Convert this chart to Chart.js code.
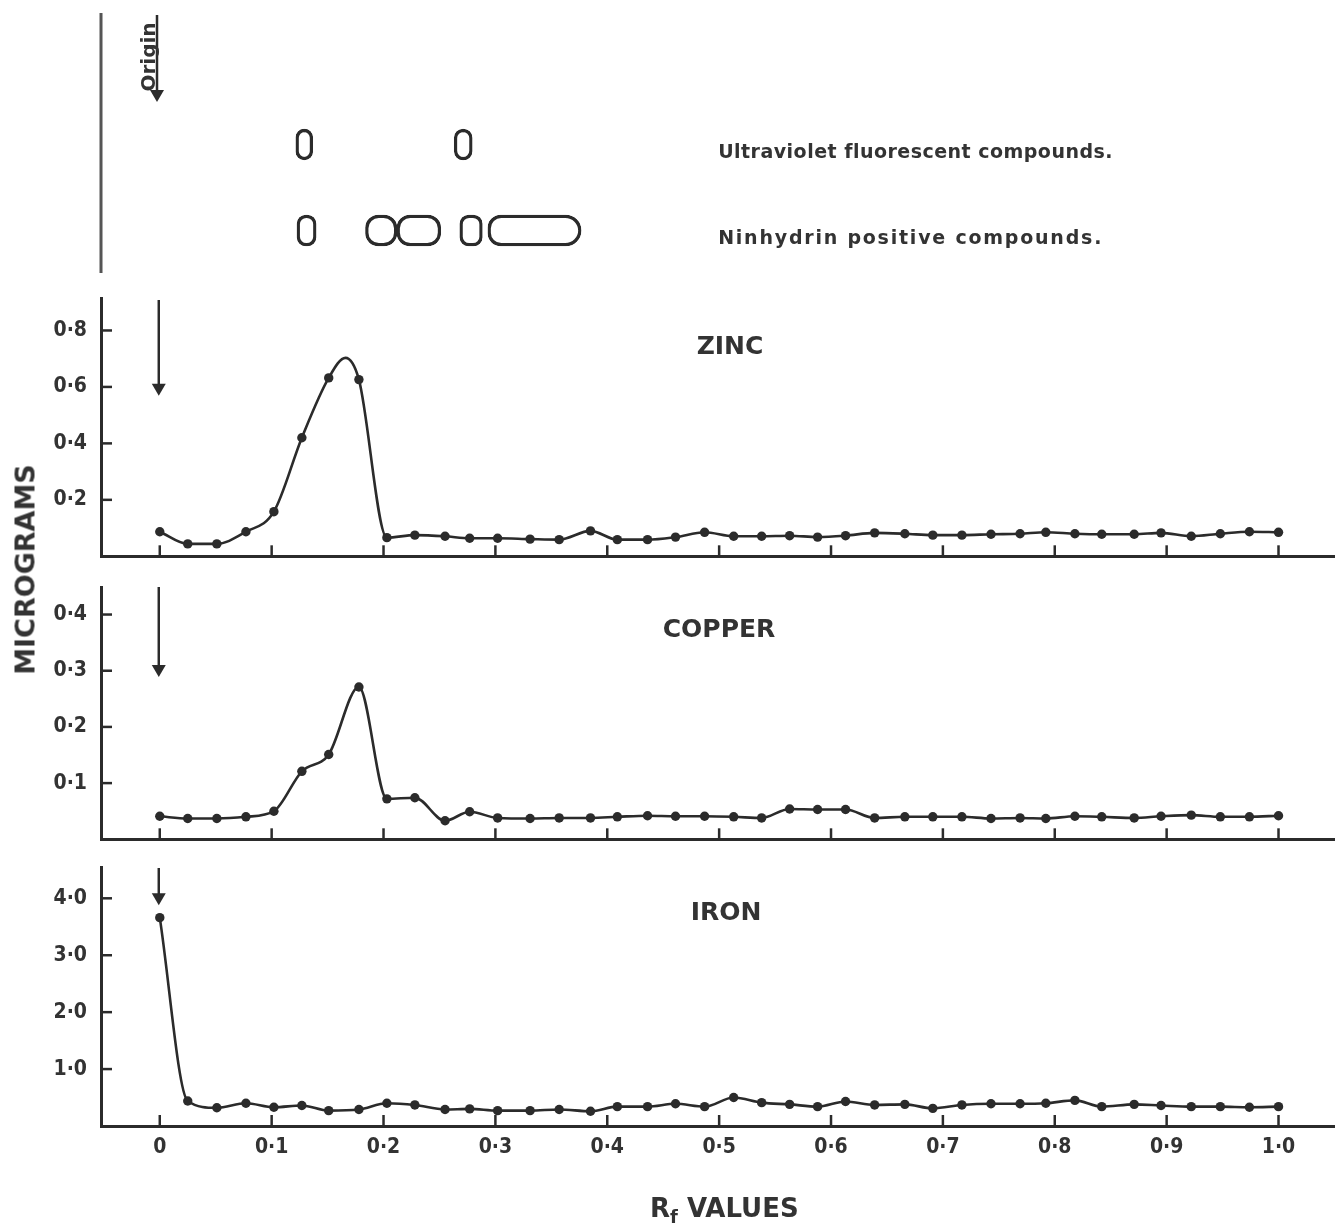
<!DOCTYPE html>
<html>
<head>
<meta charset="utf-8">
<script src="https://cdn.jsdelivr.net/npm/chart.js@4.4.1/dist/chart.umd.min.js"></script>
<style>
  html, body { margin: 0; padding: 0; background: #fff; }
  body { width: 1339px; height: 1226px; position: relative; overflow: hidden; }
  canvas { position: absolute; left: 0; }
  #ytitle {
    position: absolute; left: -127px; top: 556px; width: 300px; height: 27px;
    line-height: 27px; text-align: center; font: bold 27px 'DejaVu Sans', sans-serif;
    color: #333; transform: rotate(-90deg); transform-origin: 150px 13.5px; white-space: nowrap;
  }
  #xtitle {
    position: absolute; left: 650px; top: 1193px; height: 26px; line-height: 26px;
    font: bold 26px 'DejaVu Sans', sans-serif; color: #333; white-space: nowrap;
  }
  #xtitle sub { font-size: 18px; vertical-align: -6px; line-height: 0; }
</style>
</head>
<body>
<canvas id="spots" width="1339" height="290" style="top:0px"></canvas>
<canvas id="zinc" width="1339" height="271" style="top:290px"></canvas>
<canvas id="copper" width="1339" height="265" style="top:579px"></canvas>
<canvas id="iron" width="1339" height="367" style="top:859px"></canvas>
<div id="ytitle">MICROGRAMS</div>
<div id="xtitle">R<sub>f</sub> VALUES</div>
<script>
// ---------------- data ----------------
const rfValues = [0.000,0.025,0.051,0.077,0.102,0.127,0.151,0.178,0.203,0.228,
                  0.255,0.277,0.302,0.331,0.357,0.385,0.409,0.436,0.461,0.487,
                  0.513,0.538,0.563,0.588,0.613,0.639,0.666,0.691,0.717,0.743,
                  0.769,0.792,0.818,0.842,0.871,0.895,0.922,0.948,0.974,1.000];

const zincValues = [0.087,0.044,0.044,0.087,0.158,0.420,0.632,0.626,0.066,0.075,
                    0.071,0.064,0.064,0.061,0.059,0.090,0.059,0.059,0.068,0.085,
                    0.071,0.071,0.073,0.068,0.073,0.083,0.080,0.075,0.075,0.078,
                    0.080,0.085,0.080,0.078,0.078,0.083,0.071,0.080,0.087,0.085];
const zincApex = { rf: 0.166, value: 0.703 };   // top of the drawn curve between two readings

const copperValues = [0.041,0.037,0.037,0.040,0.050,0.121,0.151,0.271,0.072,0.074,
                      0.033,0.049,0.038,0.037,0.038,0.038,0.040,0.042,0.041,0.041,
                      0.040,0.038,0.054,0.053,0.053,0.038,0.040,0.040,0.040,0.037,
                      0.038,0.037,0.041,0.040,0.038,0.041,0.043,0.040,0.040,0.042];

const ironValues = [3.66,0.44,0.32,0.40,0.33,0.36,0.27,0.29,0.40,0.37,
                    0.29,0.30,0.27,0.27,0.29,0.26,0.34,0.34,0.39,0.34,
                    0.50,0.41,0.38,0.34,0.43,0.37,0.38,0.31,0.37,0.39,
                    0.39,0.40,0.45,0.34,0.38,0.36,0.34,0.34,0.33,0.34];

const rfTicks = [0,0.1,0.2,0.3,0.4,0.5,0.6,0.7,0.8,0.9,1.0];
const rfTickLabels = ['0','0·1','0·2','0·3','0·4','0·5','0·6','0·7','0·8','0·9','1·0'];

const zincTicks = [0.2,0.4,0.6,0.8];
const zincTickLabels = ['0·2','0·4','0·6','0·8'];
const copperTicks = [0.1,0.2,0.3,0.4];
const copperTickLabels = ['0·1','0·2','0·3','0·4'];
const ironTicks = [1,2,3,4];
const ironTickLabels = ['1·0','2·0','3·0','4·0'];

const spotRows = ['Ultraviolet fluorescent compounds.', 'Ninhydrin positive compounds.'];
const uvSpots = [[0.121,0.136],[0.262,0.278]];
const ninhydrinSpots = [[0.122,0.139],[0.183,0.211],[0.211,0.250],[0.267,0.287],[0.292,0.375]];

// ---------------- style / layout ----------------
const INK = '#2b2b2b';
const TEXT = '#333';
const X_MIN = -0.05254, X_MAX = 1.04987;
const TICK_FONT = { family: "'DejaVu Sans Condensed', 'Liberation Sans Narrow', 'DejaVu Sans'", size: 21, weight: 'bold' };
Chart.defaults.font.family = "'DejaVu Sans', sans-serif";
Chart.defaults.color = TEXT;

const decor = {
  id: 'decor',
  afterDraw(chart, args, o) {
    const { ctx, chartArea: a, scales } = chart;
    const xs = scales.x, ys = scales.y;
    ctx.save();
    ctx.strokeStyle = INK; ctx.fillStyle = INK; ctx.lineWidth = 2.5; ctx.lineCap = 'butt';
    (o.yTicks || []).forEach(v => {
      const y = ys.getPixelForValue(v);
      ctx.beginPath(); ctx.moveTo(a.left, y); ctx.lineTo(a.left + 11, y); ctx.stroke();
    });
    rfTicks.forEach(v => {
      const x = xs.getPixelForValue(v);
      ctx.beginPath(); ctx.moveTo(x, a.bottom); ctx.lineTo(x, a.bottom - 11); ctx.stroke();
    });
    if (o.arrowTip != null) {
      const x = xs.getPixelForValue(0) - 1;
      const yTip = ys.getPixelForValue(o.arrowTip);
      ctx.beginPath(); ctx.moveTo(x, a.top + (o.arrowStart || 0)); ctx.lineTo(x, yTip - 10); ctx.stroke();
      ctx.beginPath(); ctx.moveTo(x - 7, yTip - 12); ctx.lineTo(x + 7, yTip - 12); ctx.lineTo(x, yTip); ctx.closePath(); ctx.fill();
    }
    if (o.title) {
      ctx.fillStyle = TEXT;
      ctx.font = "bold 25px 'DejaVu Sans', sans-serif";
      ctx.textAlign = 'center'; ctx.textBaseline = 'middle';
      ctx.fillText(o.title, o.titleX, a.top + o.titleDy);
    }
    ctx.restore();
  }
};

function makePanel(id, cfg) {
  return new Chart(document.getElementById(id), {
    type: 'line',
    data: {
      datasets: [{
        data: cfg.points,
        borderColor: INK,
        backgroundColor: INK,
        borderWidth: 2.6,
        pointRadius: c => (c.raw && c.raw.apex) ? 0 : 4.7,
        pointBackgroundColor: INK,
        pointBorderWidth: 0,
        cubicInterpolationMode: 'monotone',
        tension: 0.4,
        fill: false
      }]
    },
    options: {
      responsive: false, animation: false, devicePixelRatio: 1,
      layout: { padding: { top: 8, left: 0, right: 0, bottom: 0 } },
      plugins: {
        legend: { display: false }, tooltip: { enabled: false },
        decor: { yTicks: cfg.yTicks, arrowTip: cfg.arrowTip, arrowStart: cfg.arrowStart,
                 title: cfg.title, titleX: cfg.titleX, titleDy: cfg.titleDy }
      },
      scales: {
        x: {
          type: 'linear', min: X_MIN, max: X_MAX,
          grid: { display: false },
          border: { display: true, color: INK, width: 3 },
          ticks: { display: cfg.showX, autoSkip: false, maxRotation: 0, minRotation: 0, padding: 1,
                   font: TICK_FONT, color: TEXT, callback: (v, i) => rfTickLabels[i] },
          afterBuildTicks: s => { s.ticks = rfTicks.map(v => ({ value: v })); },
          afterFit: s => { s.height = cfg.xHeight; s.paddingLeft = 0; s.paddingRight = 0; }
        },
        y: {
          type: 'linear', min: 0, max: cfg.yMax,
          grid: { display: false },
          border: { display: true, color: INK, width: 3 },
          ticks: { padding: 6, font: TICK_FONT, color: TEXT, callback: (v, i) => cfg.yLabels[i] },
          afterBuildTicks: s => { s.ticks = cfg.yTicks.map(v => ({ value: v })); },
          afterFit: s => { s.width = 101; s.paddingTop = 0; s.paddingBottom = 0; }
        }
      }
    },
    plugins: [decor]
  });
}

const toPoints = vals => rfValues.map((x, i) => ({ x: x, y: vals[i] }));
const zincPoints = toPoints(zincValues);
zincPoints.push({ x: zincApex.rf, y: zincApex.value, apex: true });
zincPoints.sort((p, q) => p.x - q.x);

makePanel('zinc', { points: zincPoints, yMax: 0.915, yTicks: zincTicks, yLabels: zincTickLabels,
  showX: false, xHeight: 4, title: 'ZINC', titleX: 730, titleDy: 49, arrowTip: 0.569, arrowStart: 2 });
makePanel('copper', { points: toPoints(copperValues), yMax: 0.449, yTicks: copperTicks, yLabels: copperTickLabels,
  showX: false, xHeight: 4, title: 'COPPER', titleX: 719, titleDy: 43, arrowTip: 0.289, arrowStart: 0 });
makePanel('iron', { points: toPoints(ironValues), yMax: 4.55, yTicks: ironTicks, yLabels: ironTickLabels,
  showX: true, xHeight: 100, title: 'IRON', titleX: 726, titleDy: 46, arrowTip: 3.877, arrowStart: 1 });

// ---------------- chromatogram strip ----------------
const spotDecor = {
  id: 'spotDecor',
  afterDraw(chart) {
    const { ctx, chartArea: a, scales } = chart;
    const xs = scales.x, ys = scales.y;
    ctx.save();
    ctx.strokeStyle = '#555'; ctx.lineWidth = 3;
    ctx.beginPath(); ctx.moveTo(a.left, 13); ctx.lineTo(a.left, 273); ctx.stroke();
    const ox = xs.getPixelForValue(0) - 3;
    ctx.strokeStyle = INK; ctx.fillStyle = INK; ctx.lineWidth = 2.5;
    ctx.beginPath(); ctx.moveTo(ox, 15); ctx.lineTo(ox, 92); ctx.stroke();
    ctx.beginPath(); ctx.moveTo(ox - 7, 90); ctx.lineTo(ox + 7, 90); ctx.lineTo(ox, 102); ctx.closePath(); ctx.fill();
    ctx.save();
    ctx.translate(ox - 2, 57); ctx.rotate(-Math.PI / 2);
    ctx.font = "bold 20px 'DejaVu Sans', sans-serif"; ctx.fillStyle = TEXT;
    ctx.textAlign = 'center'; ctx.textBaseline = 'alphabetic';
    ctx.fillText('Origin', 0, 0);
    ctx.restore();
    const targets = [394, 385];
    ctx.font = "bold 19px 'DejaVu Sans', sans-serif"; ctx.fillStyle = TEXT;
    ctx.textAlign = 'left'; ctx.textBaseline = 'middle';
    spotRows.forEach((label, i) => {
      ctx.letterSpacing = '0px';
      const w = ctx.measureText(label).width;
      const sp = (targets[i] - w) / label.length;
      ctx.letterSpacing = sp.toFixed(2) + 'px';
      ctx.fillText(label, xs.getPixelForValue(0.497), ys.getPixelForValue(i) + 8.5);
    });
    ctx.restore();
  }
};

const spotData = uvSpots.map(s => ({ x: s, y: spotRows[0] }))
  .concat(ninhydrinSpots.map(s => ({ x: s, y: spotRows[1] })));
const spotRadius = c => {
  const i = c.dataIndex;
  if (i === 6) return { topLeft: 13, bottomLeft: 13, topRight: 16, bottomRight: 16 };
  if (i === 3 || i === 4) return 13;
  return 9;
};

new Chart(document.getElementById('spots'), {
  type: 'bar',
  data: {
    labels: spotRows,
    datasets: [{
      label: 'spots', data: spotData,
      barThickness: 31, borderSkipped: false, borderWidth: 2.6, borderRadius: spotRadius,
      borderColor: INK, backgroundColor: 'rgba(255,255,255,0)'
    }]
  },
  options: {
    indexAxis: 'y',
    responsive: false, animation: false, devicePixelRatio: 1,
    layout: { padding: { top: 101.5, bottom: 16.5, left: 101, right: 0 } },
    plugins: { legend: { display: false }, tooltip: { enabled: false } },
    scales: {
      x: { type: 'linear', min: X_MIN, max: X_MAX, display: false },
      y: { type: 'category', offset: true, display: false }
    }
  },
  plugins: [spotDecor]
});
</script>
</body>
</html>
